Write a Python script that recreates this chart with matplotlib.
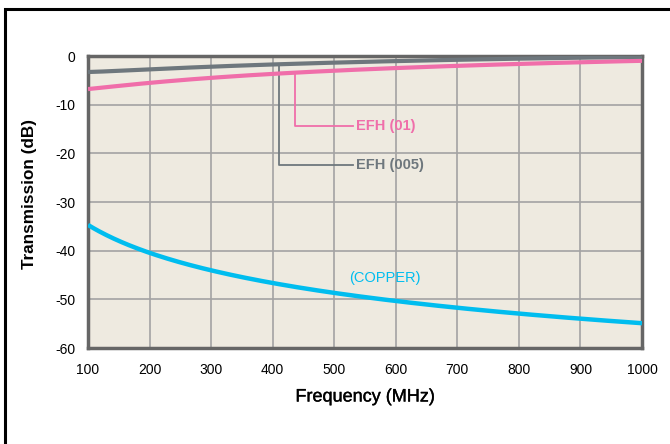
import numpy as np
import matplotlib
matplotlib.use("Agg")
import matplotlib.pyplot as plt
from matplotlib.patches import Rectangle
import matplotlib.patheffects as pe

plt.rcParams['font.family'] = ['Liberation Sans', 'DejaVu Sans']

freq = [100, 200, 300, 400, 500, 600, 700, 800, 900, 1000]
efh_01 = [-6.8, -5.5, -4.5, -3.7, -3.0, -2.5, -2.0, -1.6, -1.3, -1.0]
efh_005 = [-3.3, -2.7, -2.2, -1.8, -1.4, -1.0, -0.75, -0.5, -0.35, -0.2]
copper = [-34.7, -40.5, -44.0, -46.6, -48.7, -50.3, -51.8, -53.0, -53.9, -54.9]

x_ticks = [100, 200, 300, 400, 500, 600, 700, 800, 900, 1000]
y_ticks = [0, -10, -20, -30, -40, -50, -60]

pink = '#F06EAA'
gray = '#6E777D'
cyan = '#00BDEF'

fig = plt.figure(figsize=(6.7, 4.44), dpi=100)
fig.patch.set_facecolor('white')
fig.patches.append(Rectangle((5/670, -0.05), 1.2, 1 - 9/444 + 0.05, transform=fig.transFigure,
                             fill=False, edgecolor='black', linewidth=2.2, zorder=0))

ax = fig.add_axes([88/670, 1 - 348/444, (642 - 88)/670, (348 - 56)/444])
ax.set_facecolor('#EEEAE0')

xs = np.linspace(100, 1000, 300)

def coeffs(y):
    return np.polyfit(np.log(freq), y, 3)

def curve(y, x):
    return np.polyval(coeffs(y), np.log(x))

ax.plot(xs, curve(copper, xs), color=cyan, lw=3.2, solid_capstyle='butt', zorder=3)
ax.plot(xs, curve(efh_01, xs), color=pink, lw=3.0, solid_capstyle='butt', zorder=3)
ax.plot(xs, curve(efh_005, xs), color=gray, lw=3.0, solid_capstyle='butt', zorder=4)

ax.set_xlim(100, 1000)
ax.set_ylim(-60, 0)
ax.set_xticks(x_ticks)
ax.set_yticks(y_ticks)
ax.set_xticklabels([str(t) for t in x_ticks])
ax.set_yticklabels([str(t) for t in y_ticks])
ax.tick_params(length=0, labelsize=10, colors='black')
ax.tick_params(axis='x', pad=11)
ax.tick_params(axis='y', pad=9)
ax.grid(True, color='#A3A3A3', lw=1.2)
ax.set_axisbelow(True)
for s in ax.spines.values():
    s.set_color('#666666')
    s.set_linewidth(2.5)

fig.text(365/670, 1 - 397/444, 'Frequency (MHz)', fontsize=13, ha='center', va='center',
         path_effects=[pe.withStroke(linewidth=0.25, foreground='black')])
fig.text(30/670, 1 - 194/444, 'Transmission (dB)', fontsize=12.3, fontweight='bold',
         rotation=90, ha='center', va='center')

# leader lines
x01, y01 = 437, -14.4
x005, y005 = 410, -22.4
xe = 530
ax.plot([x01, x01, xe], [float(curve(efh_01, x01)), y01, y01], color=pink, lw=1.3, zorder=2)
ax.plot([x005, x005, xe], [float(curve(efh_005, x005)), y005, y005], color=gray, lw=1.3, zorder=2)
ax.text(xe + 5, y01, 'EFH (01)', color=pink, fontsize=10.5, va='center', ha='left', fontweight='bold')
ax.text(xe + 5, y005, 'EFH (005)', color=gray, fontsize=10.5, va='center', ha='left', fontweight='bold')
ax.text(582, -45.6, '(COPPER)', color=cyan, fontsize=10.5, va='center', ha='center')

fig.savefig('out.png', dpi=100)
